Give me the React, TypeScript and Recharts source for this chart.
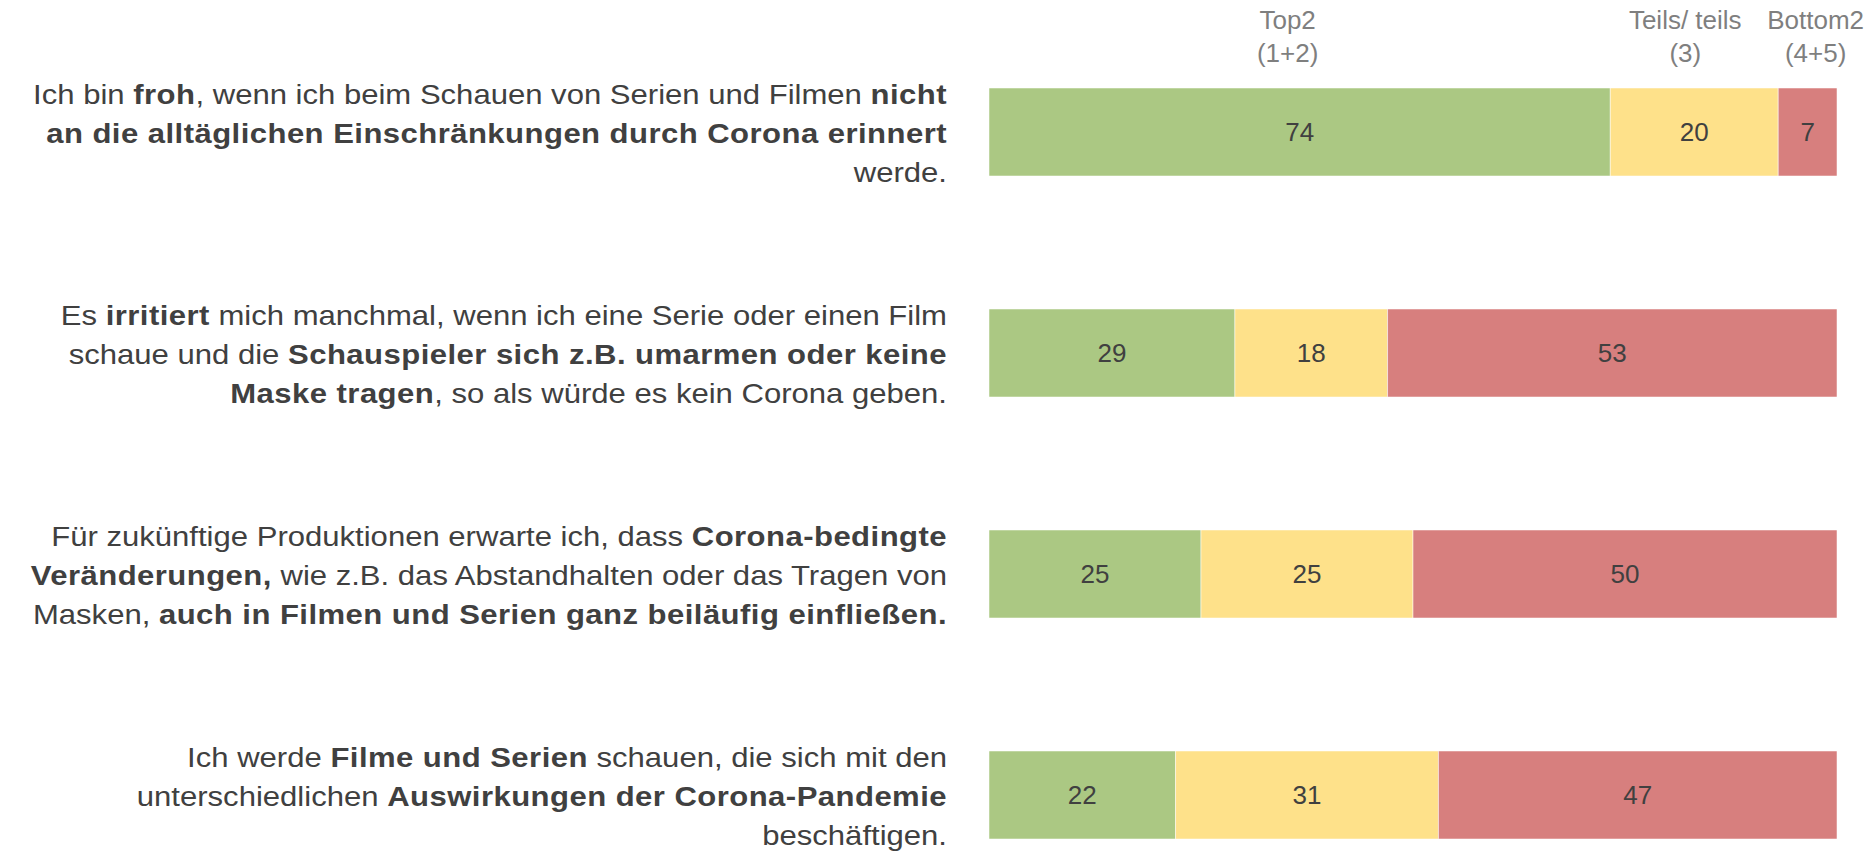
import { BarChart, Bar, XAxis, YAxis, LabelList } from "recharts";

// question text, one entry per line, **...** = bold
const questionLines = [
  [
    "Ich bin **froh**, wenn ich beim Schauen von Serien und Filmen **nicht**",
    "**an die alltäglichen Einschränkungen durch Corona erinnert**",
    "werde.",
  ],
  [
    "Es **irritiert** mich manchmal, wenn ich eine Serie oder einen Film",
    "schaue und die **Schauspieler sich z.B. umarmen oder keine**",
    "**Maske tragen**, so als würde es kein Corona geben.",
  ],
  [
    "Für zukünftige Produktionen erwarte ich, dass **Corona-bedingte**",
    "**Veränderungen,** wie z.B. das Abstandhalten oder das Tragen von",
    "Masken, **auch in Filmen und Serien ganz beiläufig einfließen.**",
  ],
  [
    "Ich werde **Filme und Serien** schauen, die sich mit den",
    "unterschiedlichen **Auswirkungen der Corona-Pandemie**",
    "beschäftigen.",
  ],
];

const top2 = [74, 29, 25, 22];
const teils = [20, 18, 25, 31];
const bottom2 = [7, 53, 50, 47];

const headerTop2 = ["Top2", "(1+2)"];
const headerTeils = ["Teils/ teils", "(3)"];
const headerBottom2 = ["Bottom2", "(4+5)"];

const categories = questionLines.map((lines) => lines.join(" ").replace(/\*\*/g, ""));

const data = categories.map((q, i) => ({
  question: q,
  top2: top2[i],
  teils: teils[i],
  bottom2: bottom2[i],
}));

const FONT = '"Liberation Sans", Arial, sans-serif';
const TEXT = "#404040";
const HEADER = "#7f7f7f";

// eslint-disable-next-line @typescript-eslint/no-explicit-any
const QuestionTick = ({ x, y, payload }: any) => {
  const idx = categories.indexOf(payload.value);
  const lines = questionLines[idx] || [];
  const lineH = 39;
  const tx = x - 42;
  return (
    <g>
      {lines.map((line, li) => {
        const parts = line.split("**");
        const dy = (li - (lines.length - 1) / 2) * lineH + 11;
        return (
          <text
            key={li}
            x={0}
            y={0}
            transform={`translate(${tx},${y + dy}) scale(1.13,1)`}
            textAnchor="end"
            fontFamily={FONT}
            fontSize={27.5}
            fill={TEXT}
            style={{ whiteSpace: "pre" }}
          >
            {parts.map((p, pi) =>
              p ? (
                <tspan
                  key={pi}
                  fontWeight={pi % 2 === 1 ? "bold" : "normal"}
                  letterSpacing={pi % 2 === 1 ? 0.4 : 0}
                >
                  {p}
                </tspan>
              ) : null
            )}
          </text>
        );
      })}
    </g>
  );
};

// value inside the segment, read from the raw arrays
const valueLabel = (values: number[]) =>
  // eslint-disable-next-line @typescript-eslint/no-explicit-any
  (props: any) => {
    const vb = props.viewBox || props;
    const x = vb.x ?? props.x;
    const y = vb.y ?? props.y;
    const w = vb.width ?? props.width;
    const h = vb.height ?? props.height;
    return (
      <text
        x={x + w / 2}
        y={y + h / 2 + 9}
        textAnchor="middle"
        fontFamily={FONT}
        fontSize={26}
        fill={TEXT}
      >
        {values[props.index]}
      </text>
    );
  };

// column header above the first bar
const headerLabel = (lines: string[], dx: number) =>
  // eslint-disable-next-line @typescript-eslint/no-explicit-any
  (props: any) => {
    if (props.index !== 0) return null;
    const vb = props.viewBox || props;
    const x = vb.x ?? props.x;
    const y = vb.y ?? props.y;
    const w = vb.width ?? props.width;
    return (
      <g>
        {lines.map((l, i) => (
          <text
            key={i}
            x={x + w / 2 + dx}
            y={y - 59 + i * 32.5}
            textAnchor="middle"
            fontFamily={FONT}
            fontSize={26}
            fill={HEADER}
          >
            {l}
          </text>
        ))}
      </g>
    );
  };

export default function App() {
  return (
    <div
      style={{
        position: "absolute",
        left: 0,
        top: 0,
        width: 1868,
        height: 854,
        overflow: "hidden",
        background: "#fff",
      }}
    >
      <BarChart
        width={1868}
        height={905}
        data={data}
        layout="vertical"
        stackOffset="expand"
        barSize={88}
        margin={{ top: 21, right: 31, bottom: 0, left: 0 }}
      >
        <XAxis type="number" hide domain={[0, 1]} />
        <YAxis
          type="category"
          dataKey="question"
          width={989}
          axisLine={false}
          tickLine={false}
          tickSize={0}
          tickMargin={0}
          tick={<QuestionTick />}
          interval={0}
        />
        <Bar dataKey="top2" stackId="a" fill="#abc883" stroke="#ffffff" strokeOpacity={0.5} strokeWidth={1} isAnimationActive={false}>
          <LabelList dataKey="top2" content={valueLabel(top2)} />
          <LabelList dataKey="top2" content={headerLabel(headerTop2, -12)} />
        </Bar>
        <Bar dataKey="teils" stackId="a" fill="#fee18a" stroke="#ffffff" strokeOpacity={0.5} strokeWidth={1} isAnimationActive={false}>
          <LabelList dataKey="teils" content={valueLabel(teils)} />
          <LabelList dataKey="teils" content={headerLabel(headerTeils, -9)} />
        </Bar>
        <Bar dataKey="bottom2" stackId="a" fill="#d77f7e" stroke="#ffffff" strokeOpacity={0.5} strokeWidth={1} isAnimationActive={false}>
          <LabelList dataKey="bottom2" content={valueLabel(bottom2)} />
          <LabelList dataKey="bottom2" content={headerLabel(headerBottom2, 8)} />
        </Bar>
      </BarChart>
    </div>
  );
}
